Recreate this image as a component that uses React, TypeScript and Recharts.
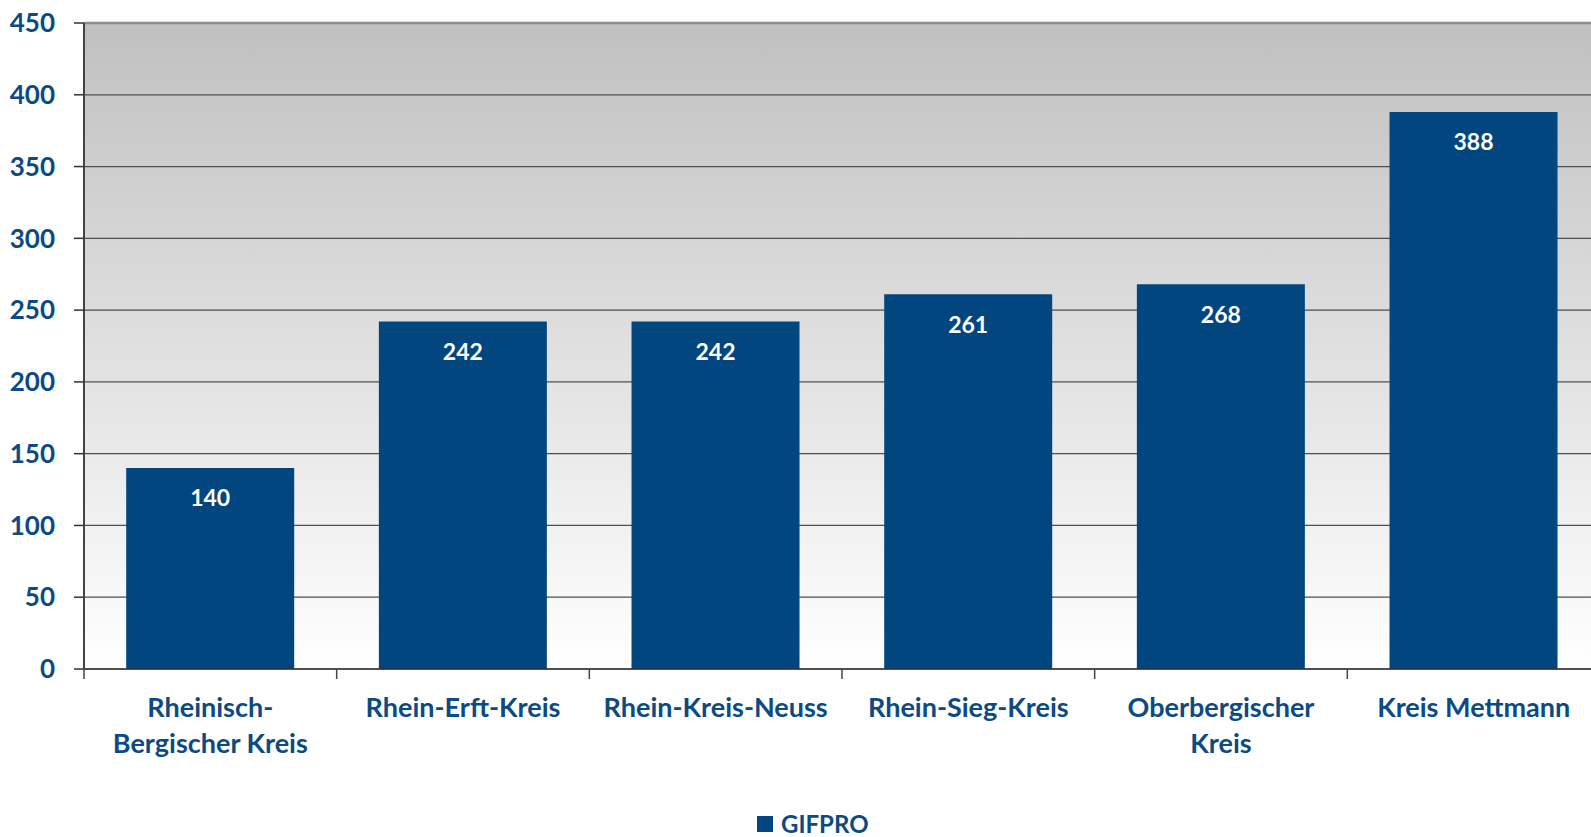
import React from 'react';
import {
  BarChart,
  Bar,
  XAxis,
  YAxis,
  CartesianGrid,
  LabelList,
  Legend,
  ReferenceLine,
} from 'recharts';

// Districts (line breaks mark wrapped axis labels)
const districts: string[] = [
  'Rheinisch-\nBergischer Kreis',
  'Rhein-Erft-Kreis',
  'Rhein-Kreis-Neuss',
  'Rhein-Sieg-Kreis',
  'Oberbergischer\nKreis',
  'Kreis Mettmann',
];

// GIFPRO values per district
const gifproValues: number[] = [140, 242, 242, 261, 268, 388];

const yTicks: number[] = [0, 50, 100, 150, 200, 250, 300, 350, 400, 450];

const seriesName = 'GIFPRO';

const rows = districts.map((d, i) => ({ district: d, value: gifproValues[i] }));

const BLUE = '#02467f';
const TEXT = '#0b4a82';
const FONT = 'Lato, "Open Sans", sans-serif';
const X_TICK = 10;

const CategoryTick = (props: any) => {
  const { x, y, payload } = props;
  const half = payload && typeof payload.offset === 'number' ? payload.offset : 0;
  const lines = String(payload.value).split('\n');
  const axisY = y - X_TICK;
  return (
    <g>
      <line x1={x - half} x2={x - half} y1={axisY} y2={axisY + X_TICK} stroke="#444" strokeWidth={1.5} />
      <text
        x={x}
        y={y}
        textAnchor="middle"
        fill={TEXT}
        fontFamily={FONT}
        fontWeight={700}
        fontSize={27}
      >
        {lines.map((ln, i) => (
          <tspan key={i} x={x} dy={i === 0 ? 38 : 36}>
            {ln}
          </tspan>
        ))}
      </text>
    </g>
  );
};

const LegendContent = () => (
  <div
    style={{
      display: 'flex',
      alignItems: 'center',
      height: 27,
      fontFamily: FONT,
      fontWeight: 700,
      fontSize: 24,
      color: TEXT,
      whiteSpace: 'nowrap',
    }}
  >
    <span style={{ display: 'inline-block', width: 16, height: 16, background: BLUE, marginRight: 8 }} />
    <span>{seriesName}</span>
  </div>
);

export default function App() {
  return (
    <div style={{ position: 'absolute', left: 0, top: 0, width: 1591, height: 837, overflow: 'hidden', background: '#fff' }}>
      <BarChart
        width={1600}
        height={837}
        data={rows}
        margin={{ top: 23, right: 0, bottom: 0, left: 0 }}
        barCategoryGap="16.7%"
      >
        <defs>
          <linearGradient id="plotBg" x1="0" y1="0" x2="0" y2="1">
            <stop offset="0%" stopColor="#c0c0c0" />
            <stop offset="100%" stopColor="#ffffff" />
          </linearGradient>
        </defs>
        <CartesianGrid
          vertical={false}
          stroke="#4f4f4f"
          strokeWidth={1.2}
          fill="url(#plotBg)"
          fillOpacity={1}
        />
        <ReferenceLine y={450} stroke="#8c8c8c" strokeWidth={2.5} />
        <XAxis
          dataKey="district"
          type="category"
          height={141}
          interval={0}
          tickLine={false}
          tickSize={X_TICK}
          tickMargin={0}
          axisLine={{ stroke: '#333', strokeWidth: 1.5 }}
          tick={<CategoryTick />}
        />
        <YAxis
          width={84}
          domain={[0, 450]}
          ticks={yTicks}
          interval={0}
          tickSize={10}
          tickMargin={19}
          tickLine={{ stroke: '#333', strokeWidth: 1.5 }}
          axisLine={{ stroke: '#444', strokeWidth: 2 }}
          tick={{ fill: TEXT, fontFamily: FONT, fontWeight: 700, fontSize: 26 }}
        />
        <Legend
          verticalAlign="bottom"
          content={<LegendContent />}
          wrapperStyle={{ left: 757, width: 'auto' }}
        />
        <Bar dataKey="value" name={seriesName} fill={BLUE} isAnimationActive={false}>
          <LabelList
            dataKey="value"
            position="insideTop"
            offset={22}
            fill="#ffffff"
            fontFamily={FONT}
            fontWeight={700}
            fontSize={23}
          />
        </Bar>
      </BarChart>
    </div>
  );
}
